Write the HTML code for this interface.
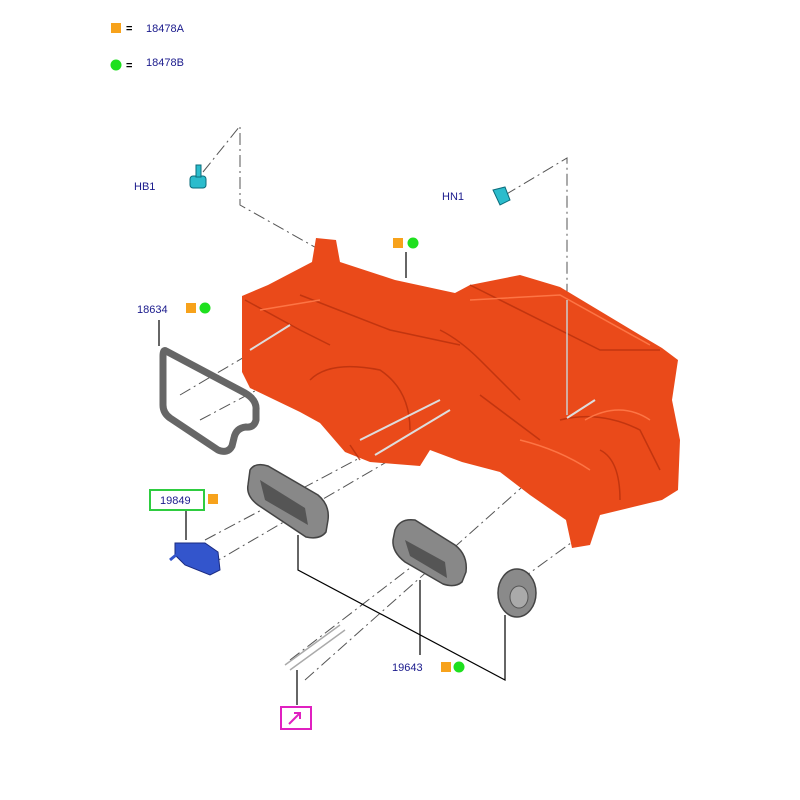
<!DOCTYPE html>
<html><head><meta charset="utf-8"><style>
body{margin:0;background:#fff}
svg{display:block}
text{font-family:"Liberation Sans",sans-serif;font-size:11px;fill:#1a1a8c}
</style></head><body>
<svg width="800" height="800" viewBox="0 0 800 800" xmlns="http://www.w3.org/2000/svg">
<rect x="111" y="23" width="10" height="10" fill="#f7a21b"/>
<text x="126" y="32" style="fill:#000;font-weight:bold">=</text>
<text x="146" y="32">18478A</text>
<circle cx="116" cy="65" r="5.5" fill="#1ee01e"/>
<text x="126" y="69" style="fill:#000;font-weight:bold">=</text>
<text x="146" y="66">18478B</text>

<g stroke="#555" stroke-width="1" fill="none" stroke-dasharray="12,4,2,4">
<polyline points="203,172 240,126 240,205 320,250"/>
<polyline points="505,195 567,158 567,415"/>
<line x1="180" y1="395" x2="290" y2="330"/>
<line x1="200" y1="420" x2="270" y2="383"/>
<line x1="205" y1="540" x2="450" y2="410"/>
<line x1="210" y1="565" x2="450" y2="425"/>
<line x1="290" y1="660" x2="440" y2="545"/>
<line x1="305" y1="680" x2="530" y2="480"/>
<line x1="520" y1="580" x2="575" y2="540"/>
</g>

<g>
<polygon points="242,296 268,285 312,262 316,238 336,240 340,262 395,280 455,293 470,285 520,275 560,287 640,335 662,348 678,360 672,400 680,440 678,490 662,500 600,515 590,545 572,548 566,520 530,495 500,472 462,462 430,450 420,466 370,462 345,452 320,423 300,412 250,388 242,372" fill="#ea4a1a"/>
<g fill="none" stroke="#b8300c" stroke-width="1.5" opacity="0.8">
<path d="M245,300 L300,330 L330,345 M300,295 L390,330 L460,345 M310,380 Q330,360 380,370 Q410,390 410,430 M470,285 L600,350 L660,350 M440,330 Q460,340 480,360 L520,400 M560,420 Q600,410 640,430 L660,470 M600,450 Q620,460 620,500 M480,395 L540,440 M350,445 L360,460"/>
</g>
<g fill="none" stroke="#ff7a4a" stroke-width="1.5" opacity="0.9">
<path d="M260,310 L320,300 M470,300 L560,295 L650,345 M585,420 Q620,400 650,420 M520,440 Q560,450 590,470"/>
</g>
</g>
<g stroke="#ddd" stroke-width="2">
<line x1="250" y1="350" x2="290" y2="325"/>
<line x1="360" y1="440" x2="440" y2="400"/>
<line x1="375" y1="455" x2="450" y2="410"/>
<line x1="567" y1="418" x2="595" y2="400"/>
</g>
<line x1="567" y1="300" x2="567" y2="415" stroke="#ccc" stroke-width="1.5"/>

<!-- gasket 18634 -->
<path d="M166,351 L245,393 Q257,400 256,410 L256,420 Q254,428 246,427 Q236,428 234,438 L232,446 Q228,454 218,450 L170,418 Q163,413 163,405 L163,356 Q163,349 166,351 Z" fill="none" stroke="#666" stroke-width="7" stroke-linejoin="round"/>

<path d="M250,470 Q255,462 268,466 L318,495 Q330,505 328,520 L326,532 Q320,540 306,537 L258,505 Q246,496 248,485 Z" fill="#888" stroke="#444" stroke-width="1.5"/>
<path d="M260,480 L305,508 L308,525 L265,500 Z" fill="#555"/>
<path d="M395,530 Q400,518 415,520 L455,545 Q468,555 466,572 L462,582 Q455,588 443,584 L405,562 Q392,552 393,540 Z" fill="#888" stroke="#444" stroke-width="1.5"/>
<path d="M405,540 L445,562 L447,578 L410,556 Z" fill="#555"/>
<ellipse cx="517" cy="593" rx="19" ry="24" fill="#8a8a8a" stroke="#444" stroke-width="1.5"/>
<ellipse cx="519" cy="597" rx="9" ry="11" fill="#aaa" stroke="#555"/>

<g stroke="#000" stroke-width="1.2" fill="none">
<polyline points="298,535 298,570 505,680 505,615"/>
<line x1="420" y1="580" x2="420" y2="655"/>
<line x1="297" y1="670" x2="297" y2="705"/>
<line x1="159" y1="320" x2="159" y2="346"/>
<line x1="406" y1="252" x2="406" y2="278"/>
<line x1="186" y1="510" x2="186" y2="540"/>
</g>

<path d="M175,543 L205,543 L218,552 L220,570 L210,575 L185,565 L175,555 Z" fill="#3355cc" stroke="#1a2a80"/>
<path d="M176,555 L170,560" stroke="#3355cc" stroke-width="3"/>
<g stroke="#aaa" stroke-width="1.5"><line x1="285" y1="665" x2="340" y2="625"/><line x1="290" y1="670" x2="345" y2="630"/></g>

<g fill="#2bbccc" stroke="#0a6b7a">
<rect x="190" y="176" width="16" height="12" rx="3"/><rect x="196" y="165" width="5" height="12"/>
<path d="M493,190 L505,187 L510,200 L500,205 Z"/>
</g>

<text x="134" y="190">HB1</text>
<text x="442" y="200">HN1</text>
<rect x="393" y="238" width="10" height="10" fill="#f7a21b"/><circle cx="413" cy="243" r="5.5" fill="#1ee01e"/>
<text x="137" y="313">18634</text>
<rect x="186" y="303" width="10" height="10" fill="#f7a21b"/><circle cx="205" cy="308" r="5.5" fill="#1ee01e"/>
<rect x="150" y="490" width="54" height="20" fill="none" stroke="#2ecc40" stroke-width="2"/>
<text x="160" y="504">19849</text>
<rect x="208" y="494" width="10" height="10" fill="#f7a21b"/>
<text x="392" y="671">19643</text>
<rect x="441" y="662" width="10" height="10" fill="#f7a21b"/><circle cx="459" cy="667" r="5.5" fill="#1ee01e"/>
<rect x="281" y="707" width="30" height="22" fill="none" stroke="#e020c0" stroke-width="2"/>
<path d="M289,724 L300,713 M294,713 L300,713 L300,719" stroke="#e020c0" stroke-width="2" fill="none"/>
</svg>
</body></html>
